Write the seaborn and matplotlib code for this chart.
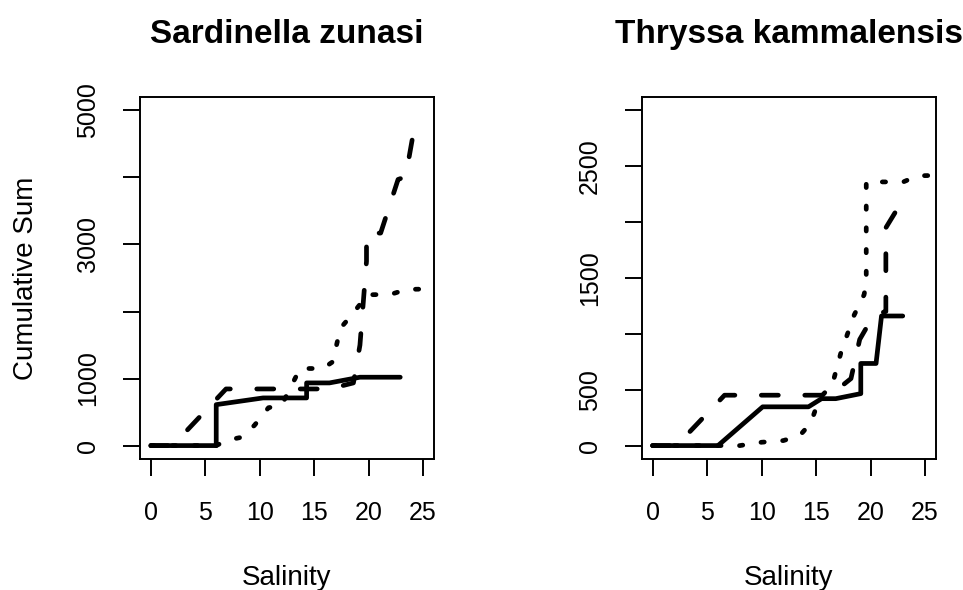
import numpy as np
import pandas as pd
import matplotlib
matplotlib.use('Agg')
import matplotlib.pyplot as plt
import seaborn as sns

# %% data (salinity vs cumulative sum, three series per species)
sal_sz_solid = [0, 6, 6, 10.3, 14.3, 14.3, 16.4, 19.2, 22.9]
cum_sz_solid = [0, 0, 611, 711, 711, 935, 935, 1020, 1020]

sal_sz_dash = [0, 2, 6.9, 16.4, 18.6, 19.2, 19.8, 19.8, 21.1, 22.7, 23.5, 23.6, 24.3]
cum_sz_dash = [0, 0, 845, 845, 935, 1500, 2750, 3170, 3170, 3970, 4016, 4200, 4840]

sal_sz_dot = [0, 6, 7, 8.2, 9.5, 10.8, 12, 13.7, 15.8, 16.7, 17.4, 18.3, 19.9, 22, 23.5, 27]
cum_sz_dot = [0, 0, 80, 120, 300, 565, 600, 1150, 1150, 1250, 1750, 1920, 2250, 2255, 2330, 2340]

sal_tk_solid = [0, 6, 10.1, 14.3, 15.5, 16.8, 19.1, 19.1, 20.5, 21.0, 22.95]
cum_tk_solid = [0, 0, 347, 347, 420, 420, 465, 735, 735, 1160, 1160]

sal_tk_dash = [0, 2.2, 6.6, 16.3, 18.2, 19.0, 20.3, 21.4, 21.4, 22.9]
cum_tk_dash = [0, 0, 451, 451, 600, 950, 1170, 1200, 1950, 2190]

sal_tk_dot = [0, 6, 8, 10, 12, 13.5, 14.5, 15.3, 16.5, 17.3, 18.5, 19.4, 19.6, 19.6, 23, 24.3, 27]
cum_tk_dot = [0, 0, 0, 30, 45, 90, 200, 420, 550, 840, 1170, 1350, 1450, 2360, 2360, 2415, 2420]

titles = ['Sardinella zunasi', 'Thryssa kammalensis']
yticks_sz = [0, 1000, 2000, 3000, 4000, 5000]
ylabels_sz = ['0', '1000', '', '3000', '', '5000']
yticks_tk = [0, 500, 1000, 1500, 2000, 2500, 3000]
ylabels_tk = ['0', '500', '', '1500', '', '2500', '']
xticks = [0, 5, 10, 15, 20, 25]


def long_df(parts):
    frames = []
    for name, x, y in parts:
        frames.append(pd.DataFrame({'Salinity': x, 'Cum': y, 'series': name}))
    return pd.concat(frames, ignore_index=True)


df_sz = long_df([('a', sal_sz_solid, cum_sz_solid),
                 ('b', sal_sz_dash, cum_sz_dash),
                 ('c', sal_sz_dot, cum_sz_dot)])
df_tk = long_df([('a', sal_tk_solid, cum_tk_solid),
                 ('b', sal_tk_dash, cum_tk_dash),
                 ('c', sal_tk_dot, cum_tk_dot)])

# %% style
sns.set_style('ticks')
plt.rcParams['font.family'] = ['Liberation Sans', 'DejaVu Sans']
plt.rcParams['axes.linewidth'] = 1.4
for k in ['text.color', 'axes.labelcolor', 'xtick.color', 'ytick.color', 'axes.edgecolor']:
    plt.rcParams[k] = 'black'

dash_map = {'a': '', 'b': (3.6, 5.6), 'c': (0.7, 3.9)}

fig = plt.figure(figsize=(9.63, 5.90), dpi=100)
ax1 = fig.add_axes([140 / 963, 131 / 590, 294 / 963, 362 / 590])
ax2 = fig.add_axes([641.7 / 963, 131 / 590, 294.3 / 963, 362 / 590])

panels = [(ax1, df_sz, (-200, 5200), yticks_sz, ylabels_sz),
          (ax2, df_tk, (-120, 3120), yticks_tk, ylabels_tk)]

for i, (ax, d, ylim, yt, yl) in enumerate(panels):
    sns.lineplot(data=d, x='Salinity', y='Cum', style='series', dashes=dash_map,
                 color='black', linewidth=3.4, sort=False, estimator=None,
                 legend=False, ax=ax)
    for ln in ax.lines:
        ln.set_dash_capstyle('round')
        ln.set_solid_capstyle('round')
        ln.set_solid_joinstyle('round')
        ln.set_dash_joinstyle('round')
    ax.set_xlim(-1, 26)
    ax.set_ylim(*ylim)
    ax.set_xticks(xticks)
    ax.set_xticklabels([str(t) for t in xticks])
    ax.set_yticks(yt)
    ax.set_yticklabels(yl, rotation=90, va='center')
    ax.tick_params(axis='both', colors='black', labelcolor='black')
    ax.tick_params(axis='x', length=12, width=1.4, pad=18, labelsize=18)
    ax.tick_params(axis='y', length=12, width=1.4, pad=16.5, labelsize=18)
    for s in ax.spines.values():
        s.set_visible(True)
        s.set_color('black')
    ax.set_title(titles[i], fontsize=24, fontweight='bold', pad=39, color='black')
    ax.set_xlabel('Salinity', fontsize=20, labelpad=29, color='black')
    ax.set_ylabel('')

ax1.set_ylabel('Cumulative Sum', fontsize=20, labelpad=27, color='black')

fig.savefig('out.png', dpi=100, facecolor='white')
